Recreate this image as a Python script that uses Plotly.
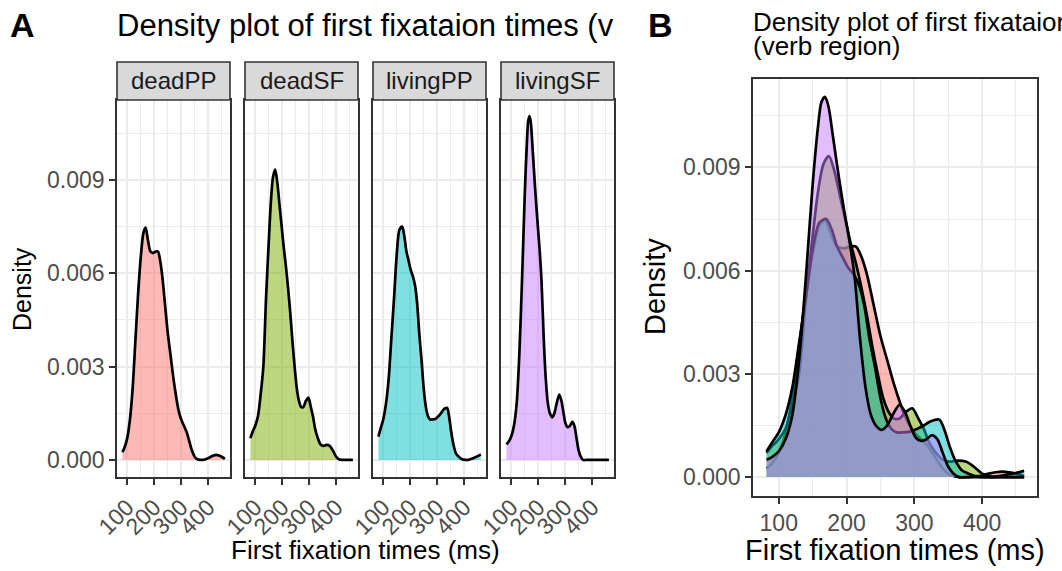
import plotly.graph_objects as go

# ---------------- data ----------------
groups = ["deadPP", "deadSF", "livingPP", "livingSF"]
line_colors = ["#F8766D", "#7CAE00", "#00BFC4", "#C77CFF"]

deadPP_x = [82, 90, 100, 110, 120, 130, 140, 150, 160, 168, 176, 186, 196, 206, 214, 222, 230, 240, 250, 260,
            270, 280, 290, 300, 310, 320, 330, 340, 350, 360, 370, 380, 390, 400, 410, 420, 430, 440, 450, 462]
deadPP_y = [0.00025, 0.0004, 0.0007, 0.0013, 0.0023, 0.0038, 0.0053, 0.0065, 0.0073, 0.00747, 0.0071, 0.0067,
            0.00665, 0.0067, 0.0067, 0.0064, 0.0059, 0.0050, 0.0041, 0.0034, 0.0027, 0.0021, 0.0016, 0.0013,
            0.0011, 0.0009, 0.0006, 0.0003, 0.0001, 0.00002, 0.0, 0.0, 0.00002, 0.00005, 0.0001, 0.00014,
            0.00016, 0.00014, 0.0001, 0.00003]

deadSF_x = [82, 90, 100, 110, 120, 130, 140, 150, 158, 166, 174, 182, 190, 198, 206, 214, 222, 230, 238, 246,
            254, 262, 270, 278, 288, 297, 306, 314, 322, 332, 342, 352, 364, 376, 388, 400, 410, 420, 440, 462]
deadSF_y = [0.0007, 0.0009, 0.0011, 0.0014, 0.0021, 0.0030, 0.0052, 0.0070, 0.0083, 0.0091, 0.00933, 0.0089,
            0.0082, 0.0075, 0.0068, 0.0062, 0.0055, 0.0047, 0.0038, 0.0030, 0.0023, 0.0019, 0.0017, 0.0017,
            0.0019, 0.0020, 0.0017, 0.0014, 0.0010, 0.0007, 0.0005, 0.00045, 0.00048, 0.00045, 0.0003, 0.0001,
            0.00002, 0.0, 0.0, 0.0]

livingPP_x = [82, 90, 100, 110, 120, 130, 140, 150, 160, 170, 178, 186, 194, 202, 210, 218, 226, 234, 242, 250,
              258, 266, 274, 284, 294, 304, 314, 322, 330, 337, 344, 352, 360, 370, 380, 392, 405, 415, 425, 437,
              450, 462]
livingPP_y = [0.00075, 0.001, 0.0013, 0.0018, 0.0026, 0.0039, 0.0052, 0.0066, 0.0074, 0.0075, 0.0072, 0.0067,
              0.0064, 0.0061, 0.0059, 0.0056, 0.0050, 0.0040, 0.0032, 0.0023, 0.0017, 0.0014, 0.0013, 0.0013,
              0.00132, 0.0014, 0.0015, 0.0016, 0.00166, 0.00167, 0.0014, 0.0009, 0.0005, 0.0002, 0.0001, 0.00002,
              0.0, 0.0, 0.00003, 0.00007, 0.00012, 0.00018]

livingSF_x = [82, 90, 100, 110, 120, 130, 140, 150, 158, 163, 168, 173, 180, 188, 196, 204, 212, 220, 228, 236,
              244, 252, 260, 268, 278, 286, 294, 302, 310, 318, 326, 334, 342, 350, 358, 366, 380, 400, 430, 462]
livingSF_y = [0.0005, 0.00058, 0.00075, 0.0011, 0.0018, 0.0034, 0.0058, 0.0085, 0.0102, 0.0109, 0.01105,
              0.0108, 0.0099, 0.0088, 0.0078, 0.0069, 0.0058, 0.0040, 0.0026, 0.0018, 0.00148, 0.00137, 0.0015,
              0.0018, 0.0021, 0.0019, 0.0015, 0.00115, 0.00105, 0.0011, 0.00122, 0.0011, 0.0007, 0.0003, 0.0001,
              0.0, 0.0, 0.0, 0.0, 0.0]

series_x = [deadPP_x, deadSF_x, livingPP_x, livingSF_x]
series_y = [deadPP_y, deadSF_y, livingPP_y, livingSF_y]

x_ticks = [100, 200, 300, 400]
y_ticks = [0.000, 0.003, 0.006, 0.009]

title_A = "Density plot of first fixataion times (v"
title_B_1 = "Density plot of first fixataion times"
title_B_2 = "(verb region)"
x_title = "First fixation times (ms)"
y_title = "Density"

# ---------------- layout helpers ----------------
W, H = 1062, 571
FONT = "Liberation Sans, Arial, Helvetica, sans-serif"


def px(v):
    return v / W


def py(v):
    return 1 - v / H


def rgba(hex_color, a):
    h = hex_color.lstrip("#")
    r, g, b = int(h[0:2], 16), int(h[2:4], 16), int(h[4:6], 16)
    return f"rgba({r},{g},{b},{a})"


XR = [62, 481]
YR = [-0.00055, 0.01157]

facet_x = [(117, 230), (245, 358), (373, 486), (501, 614)]
A_top, A_bot = 100, 477
B_left, B_right, B_top, B_bot = 753, 1037, 79, 496

fig = go.Figure()


def xaxis_style(domain, anchor, angle):
    return dict(
        domain=domain, anchor=anchor, range=XR, automargin=False,
        tickmode="array", tickvals=x_ticks, ticktext=[str(v) for v in x_ticks],
        showgrid=True, gridcolor="#EBEBEB", gridwidth=1.7,
        minor=dict(tickmode="array", tickvals=[50, 150, 250, 350, 450], showgrid=True,
                   gridcolor="#EBEBEB", gridwidth=0.9),
        showline=True, linecolor="#333333", linewidth=1.6, mirror=True,
        ticks="outside", ticklen=6, tickwidth=1.5, tickcolor="#333333",
        zeroline=False, tickangle=angle,
        tickfont=dict(family=FONT, size=23, color="#4D4D4D"),
        fixedrange=True,
    )


def yaxis_style(domain, anchor, show_labels):
    return dict(
        domain=domain, anchor=anchor, range=YR, automargin=False,
        tickmode="array", tickvals=y_ticks,
        ticktext=[f"{v:.3f}" for v in y_ticks] if show_labels else ["" for _ in y_ticks],
        showgrid=True, gridcolor="#EBEBEB", gridwidth=1.7,
        minor=dict(tickmode="array", tickvals=[0.0015, 0.0045, 0.0075, 0.0105], showgrid=True,
                   gridcolor="#EBEBEB", gridwidth=0.9),
        showline=True, linecolor="#333333", linewidth=1.6, mirror=True,
        ticks="outside" if show_labels else "", ticklen=6, tickwidth=1.5, tickcolor="#333333",
        zeroline=False,
        tickfont=dict(family=FONT, size=23, color="#4D4D4D"),
        fixedrange=True,
    )


layout_axes = {}
# Panel A facets
for i, (g, col, xs, ys) in enumerate(zip(groups, line_colors, series_x, series_y)):
    n = i + 1
    xname = "x" if n == 1 else f"x{n}"
    yname = "y" if n == 1 else f"y{n}"
    fig.add_trace(go.Scatter(
        x=xs, y=ys, xaxis=xname, yaxis=yname, mode="lines",
        line=dict(color="black", width=2.7, shape="spline", smoothing=0.8),
        fill="tozeroy", fillcolor=rgba(col, 0.5), hoverinfo="skip", showlegend=False,
    ))
    x0, x1 = facet_x[i]
    layout_axes["xaxis" if n == 1 else f"xaxis{n}"] = xaxis_style([px(x0), px(x1)], yname, -45)
    layout_axes["yaxis" if n == 1 else f"yaxis{n}"] = yaxis_style([py(A_bot), py(A_top)], xname, n == 1)

# Panel B overlay
for g, col, xs, ys in zip(groups, line_colors, series_x, series_y):
    fig.add_trace(go.Scatter(
        x=xs, y=ys, xaxis="x5", yaxis="y5", mode="lines",
        line=dict(color="black", width=2.7, shape="spline", smoothing=0.8),
        fill="tozeroy", fillcolor=rgba(col, 0.5), hoverinfo="skip", showlegend=False,
    ))
layout_axes["xaxis5"] = xaxis_style([px(B_left), px(B_right)], "y5", 0)
layout_axes["yaxis5"] = yaxis_style([py(B_bot), py(B_top)], "x5", True)

# strips
shapes = []
annotations = []
for i, g in enumerate(groups):
    x0, x1 = facet_x[i]
    shapes.append(dict(type="rect", xref="paper", yref="paper",
                       x0=px(x0), x1=px(x1), y0=py(A_top), y1=py(62),
                       fillcolor="#D9D9D9", line=dict(color="#333333", width=1.6), layer="above"))
    annotations.append(dict(text=g, xref="paper", yref="paper", x=px((x0 + x1) / 2), y=py(81),
                            xanchor="center", yanchor="middle", showarrow=False,
                            font=dict(family=FONT, size=24, color="#1A1A1A")))


def ann(text, x, y, size, xanchor="center", yanchor="middle", angle=0, bold=False, color="black"):
    annotations.append(dict(text=f"<b>{text}</b>" if bold else text, xref="paper", yref="paper",
                            x=px(x), y=py(y), xanchor=xanchor, yanchor=yanchor, showarrow=False,
                            textangle=angle, font=dict(family=FONT, size=size, color=color)))


ann("A", 22, 25, 34, bold=True)
ann(title_A, 115, 25, 31, xanchor="left")
ann(y_title, 22, 289, 25, angle=-90)
ann(x_title, 365, 550, 26)

ann("B", 661, 25, 34, bold=True)
ann(title_B_1, 751, 22, 26, xanchor="left")
ann(title_B_2, 751, 46, 26, xanchor="left")
ann(y_title, 655, 287, 29, angle=-90)
ann(x_title, 895, 550, 29)

fig.update_layout(
    width=W, height=H, margin=dict(l=0, r=0, t=0, b=0, autoexpand=False),
    paper_bgcolor="white", plot_bgcolor="white",
    showlegend=False, shapes=shapes, annotations=annotations,
    **layout_axes,
)

fig.write_html("out.html")
